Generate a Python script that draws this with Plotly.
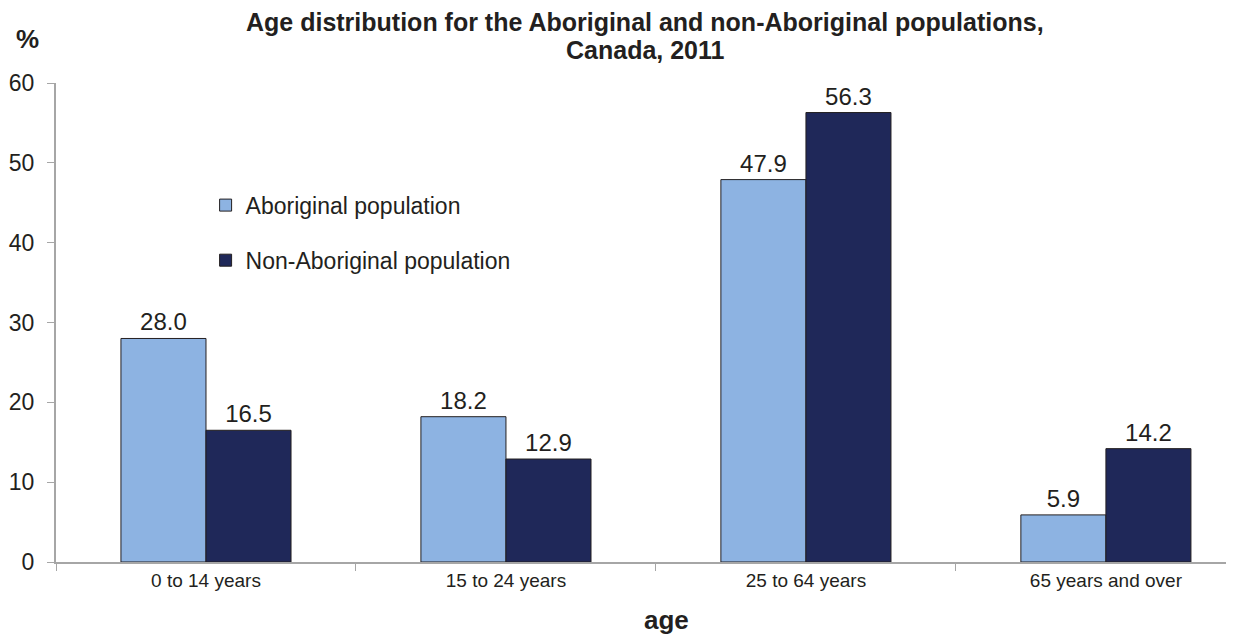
import plotly.graph_objects as go

categories = ["0 to 14 years", "15 to 24 years", "25 to 64 years", "65 years and over"]
aboriginal = [28.0, 18.2, 47.9, 5.9]
non_aboriginal = [16.5, 12.9, 56.3, 14.2]
series_names = ["Aboriginal population", "Non-Aboriginal population"]
y_ticks = [0, 10, 20, 30, 40, 50, 60]
title_lines = ["Age distribution for the Aboriginal and non-Aboriginal populations,", "Canada, 2011"]

FONT = "Liberation Sans, Arial, sans-serif"
TXT = "#231f20"

fig = go.Figure()
fig.add_trace(go.Bar(
    x=categories, y=aboriginal, name=series_names[0],
    marker=dict(color="#8db3e2", line=dict(color="#231f20", width=1)),
    texttemplate="%{y:.1f}", textposition="outside", cliponaxis=False,
    textfont=dict(size=24, color=TXT, family=FONT), legend="legend",
))
fig.add_trace(go.Bar(
    x=categories, y=non_aboriginal, name=series_names[1],
    marker=dict(color="#1f2859", line=dict(color="#231f20", width=1)),
    texttemplate="%{y:.1f}", textposition="outside", cliponaxis=False,
    textfont=dict(size=24, color=TXT, family=FONT), legend="legend2",
))

fig.update_layout(
    width=1226, height=628,
    margin=dict(l=48, r=0, t=75, b=74),
    paper_bgcolor="white", plot_bgcolor="white",
    barmode="group", bargap=0.433, bargroupgap=0,
    font=dict(family=FONT, color=TXT),
    showlegend=True,
    legend=dict(x=0.127, y=0.745, xanchor="left", yanchor="middle",
                bgcolor="rgba(0,0,0,0)", font=dict(size=23, color=TXT, family=FONT)),
    legend2=dict(x=0.127, y=0.630, xanchor="left", yanchor="middle",
                 bgcolor="rgba(0,0,0,0)", font=dict(size=23, color=TXT, family=FONT)),
    xaxis=dict(
        type="category", range=[-0.5, 3.427],
        showline=True, linecolor="#a6a6a6", linewidth=2,
        ticks="outside", tickson="boundaries", ticklen=7, tickcolor="#a6a6a6",
        tickfont=dict(size=19, color=TXT, family=FONT),
        showgrid=False, zeroline=False,
    ),
    yaxis=dict(
        range=[0, 60], tickvals=y_ticks,
        showline=True, linecolor="#a6a6a6", linewidth=2,
        ticks="outside", ticklen=7, tickcolor="#a6a6a6", ticklabelstandoff=8,
        tickfont=dict(size=23, color=TXT, family=FONT),
        showgrid=False, zeroline=False,
    ),
    annotations=[
        dict(text="<b>" + title_lines[0] + "</b>",
             xref="paper", yref="paper", x=0.5, y=1, xanchor="center", yanchor="middle",
             yshift=61, showarrow=False, font=dict(size=25, color=TXT, family=FONT)),
        dict(text="<b>" + title_lines[1] + "</b>",
             xref="paper", yref="paper", x=0.5, y=1, xanchor="center", yanchor="middle",
             yshift=33, showarrow=False, font=dict(size=25, color=TXT, family=FONT)),
        dict(text="<b>%</b>", xref="paper", yref="paper", x=-0.024, y=1, xanchor="center",
             yanchor="bottom", yshift=27, showarrow=False,
             font=dict(size=26, color=TXT, family=FONT)),
        dict(text="<b>age</b>", xref="paper", yref="paper", x=0.518, y=0, xanchor="center",
             yanchor="middle", yshift=-58, showarrow=False,
             font=dict(size=26, color=TXT, family=FONT)),
    ],
)

fig.write_html("out.html")
